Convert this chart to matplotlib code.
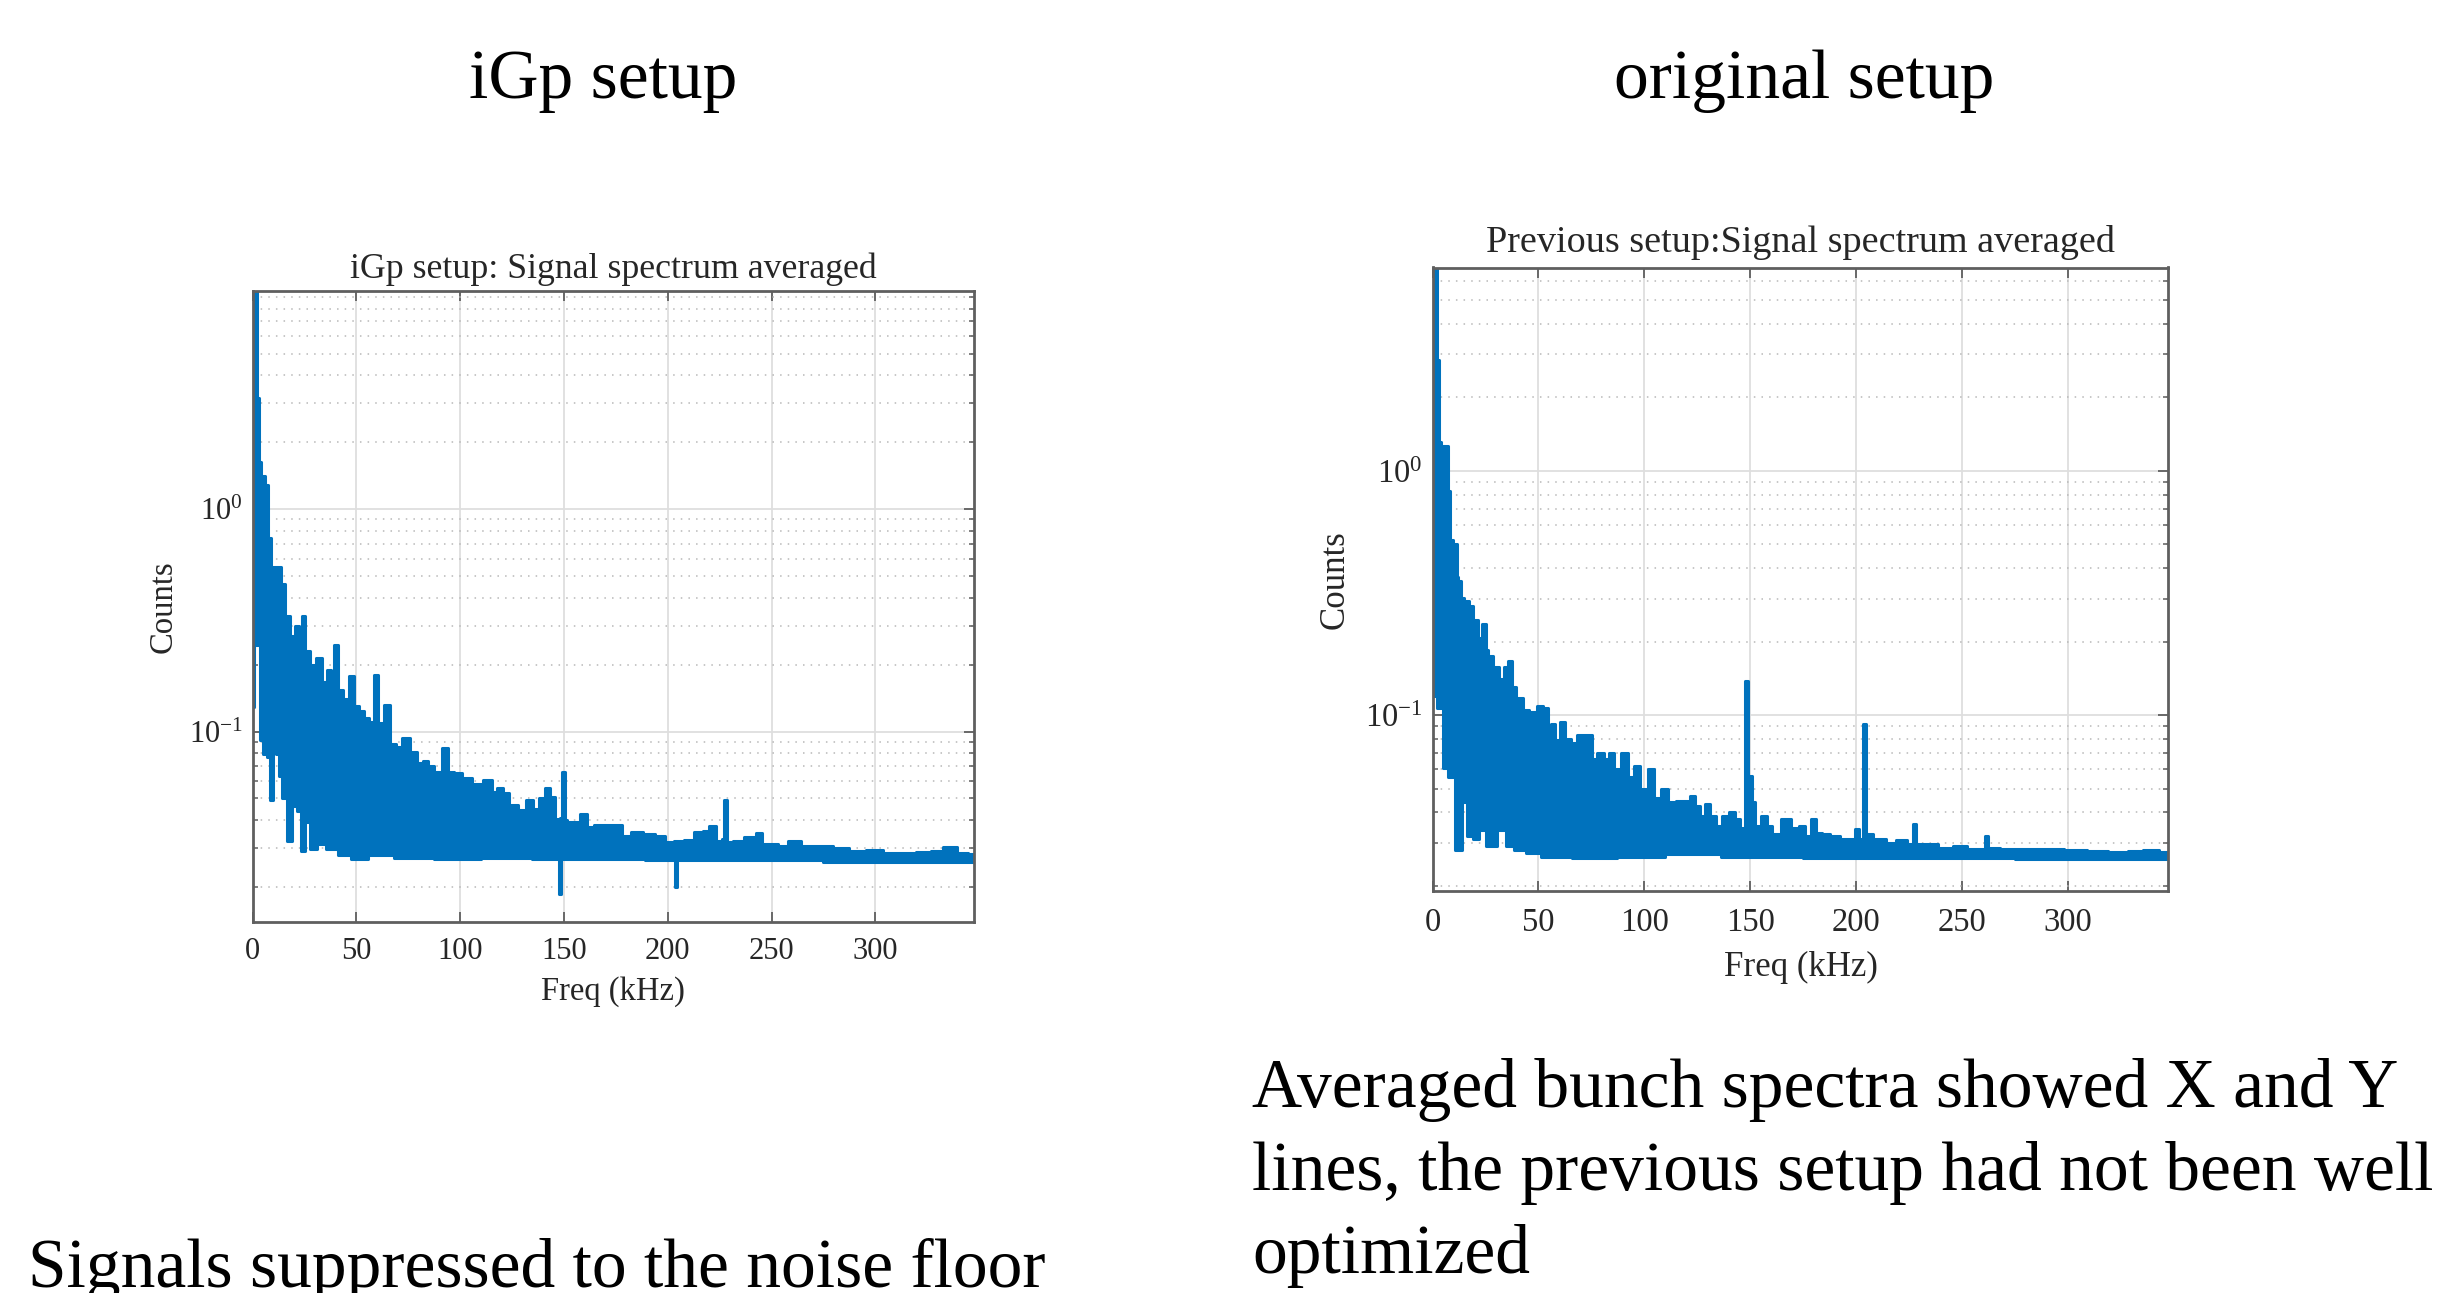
import numpy as np
import matplotlib
matplotlib.use("Agg")
import matplotlib.pyplot as plt
from matplotlib import cbook

plt.rcParams['font.family'] = ['Liberation Serif', 'DejaVu Serif']
plt.rcParams['mathtext.fontset'] = 'custom'
plt.rcParams['mathtext.rm'] = 'Liberation Serif'

# ---- iGp setup spectrum (upper and lower edge of the trace) ----
igp_up_f = [0, 0.6, 2.2, 2.6, 3.2, 3.5, 5.0, 7.1, 7.7, 9.8, 13.0, 14.6, 16.7, 19.0, 21.8, 23.0,
            24.7, 26.3, 29.0, 32.2, 34.6, 37.0, 38.5, 40.2, 42.6, 45.0, 48.2, 50.0, 52.2, 55.0,
            57.5, 59.1, 61.9, 64.7, 67.5, 70.5, 73.9, 77.9, 80.5, 83.5, 85.9, 89.0, 93.1, 95.5,
            98.7, 103.0, 108.3, 114.0, 116.4, 119.6, 122.1, 125.3, 130.1, 133.3, 136.5, 139.7,
            142.1, 144.5, 146.9, 149.2, 149.4, 150.2, 150.4, 152.6, 155.8, 159.8, 162.2, 167.0,
            171.8, 175.9, 179.9, 184.7, 191.1, 196.7, 200.8, 205.6, 210.4, 215.2, 218.4, 221.3,
            224.8, 227.2, 227.4, 228.2, 228.4, 229.7, 232.9, 240.9, 243.8, 247.3, 250.5, 255.3,
            260.2, 268.2, 274.6, 284.3, 290.7, 300.3, 306.7, 314.8, 324.4, 329.2, 336.4, 342.1,
            347.5]
igp_up_v = [2.06, 12, 12, 3.16, 2.06, 1.63, 1.41, 1.29, 0.74, 0.55, 0.55, 0.46, 0.33, 0.27, 0.30,
            0.26, 0.33, 0.23, 0.20, 0.215, 0.167, 0.19, 0.15, 0.245, 0.153, 0.14, 0.178, 0.13,
            0.124, 0.115, 0.11, 0.18, 0.109, 0.132, 0.088, 0.085, 0.094, 0.081, 0.072, 0.074,
            0.070, 0.066, 0.084, 0.066, 0.065, 0.062, 0.058, 0.0607, 0.0536, 0.0555, 0.0527,
            0.0467, 0.0443, 0.0492, 0.045, 0.050, 0.0555, 0.0509, 0.0406, 0.041, 0.0655, 0.0655,
            0.040, 0.0392, 0.0392, 0.0427, 0.0372, 0.0378, 0.0378, 0.038, 0.034, 0.0355, 0.0346,
            0.034, 0.0317, 0.0323, 0.0326, 0.0353, 0.0358, 0.0374, 0.0323, 0.033, 0.0491, 0.0491,
            0.032, 0.0317, 0.0323, 0.0335, 0.035, 0.0312, 0.0312, 0.0306, 0.0323, 0.0306, 0.0305,
            0.0299, 0.029, 0.0292, 0.0284, 0.0285, 0.0288, 0.029, 0.0301, 0.0285, 0.0281]
igp_lo_f = [0, 0.3, 1.0, 3.4, 4.2, 5.8, 8.2, 9.0, 10.3, 12.2, 13.0, 15.1, 17.8, 20.2, 22.6, 24.2,
            26.6, 29.0, 33.0, 37.8, 44.2, 50.6, 60.3, 76.3, 98.7, 121.2, 147.6, 148.0, 148.6,
            149.0, 175.0, 203.4, 203.8, 204.4, 204.8, 250.0, 300.0, 347.5]
igp_lo_v = [0.129, 0.129, 0.245, 0.245, 0.092, 0.079, 0.077, 0.049, 0.081, 0.079, 0.063, 0.050,
            0.0323, 0.046, 0.044, 0.029, 0.039, 0.0297, 0.0311, 0.0297, 0.0278, 0.0267, 0.0278,
            0.027, 0.0267, 0.027, 0.0267, 0.0185, 0.0185, 0.0267, 0.0266, 0.0265, 0.020, 0.020,
            0.0265, 0.0263, 0.026, 0.026]

# ---- previous setup spectrum ----
prev_up_f = [0, 0.3, 1.6, 2.2, 3.4, 5.0, 6.9, 7.8, 8.5, 11.0, 11.6, 12.8, 13.6, 16.0, 18.3, 20.3,
             22.2, 24.7, 25.7, 26.9, 30.0, 32.4, 34.7, 36.6, 38.2, 41.0, 44.1, 47.3, 51.2, 53.5,
             55.1, 56.7, 59.0, 61.3, 63.7, 66.8, 70.0, 73.9, 76.2, 79.3, 82.5, 84.0, 87.2, 90.8,
             93.4, 96.6, 99.7, 103.3, 106.0, 109.9, 112.2, 117.3, 120.4, 122.8, 125.2, 127.5,
             129.9, 132.2, 135.3, 138.3, 141.4, 143.8, 146.1, 147.5, 147.7, 148.9, 149.1, 150.8,
             151.0, 153.1, 157.0, 158.6, 161.7, 167.2, 171.0, 174.9, 177.3, 180.4, 182.0, 185.9,
             189.8, 195.2, 198.3, 200.7, 202.2, 203.3, 203.5, 204.7, 204.9, 210.8, 217.0, 220.9,
             227.0, 227.2, 228.4, 228.6, 235.7, 242.0, 249.8, 254.5, 260.8, 261.0, 262.3, 262.5,
             273.2, 281.0, 291.9, 304.3, 313.7, 324.6, 332.4, 338.7, 347.5]
prev_up_v = [1.47, 9, 9, 2.83, 1.31, 1.26, 1.26, 0.825, 0.52, 0.50, 0.368, 0.354, 0.303, 0.292,
             0.281, 0.245, 0.206, 0.236, 0.184, 0.174, 0.158, 0.14, 0.158, 0.167, 0.13, 0.118,
             0.105, 0.103, 0.109, 0.107, 0.079, 0.092, 0.079, 0.094, 0.080, 0.077, 0.083, 0.083,
             0.066, 0.070, 0.066, 0.070, 0.060, 0.070, 0.056, 0.062, 0.050, 0.060, 0.046, 0.050,
             0.044, 0.0446, 0.0446, 0.0467, 0.0425, 0.0387, 0.0432, 0.0387, 0.0352, 0.0387, 0.040,
             0.0375, 0.0346, 0.034, 0.138, 0.138, 0.0564, 0.0564, 0.0439, 0.0352, 0.0387, 0.0352,
             0.0325, 0.0375, 0.0346, 0.0352, 0.032, 0.0375, 0.033, 0.0325, 0.032, 0.031, 0.031,
             0.0341, 0.031, 0.031, 0.0919, 0.0919, 0.0325, 0.031, 0.030, 0.0308, 0.0297, 0.0358,
             0.0358, 0.0297, 0.0297, 0.0287, 0.029, 0.0282, 0.0282, 0.032, 0.032, 0.0287, 0.0282,
             0.0282, 0.0282, 0.0281, 0.0278, 0.0274, 0.0278, 0.0281, 0.0274]
prev_lo_f = [0, 0.4, 4.2, 5.8, 8.9, 12.5, 15.2, 17.2, 20.7, 23.0, 27.7, 33.2, 36.3, 41.0, 47.3,
             55.1, 77.0, 97.3, 122.4, 150.0, 200.0, 250.0, 300.0, 347.5]
prev_lo_v = [0.12, 0.12, 0.107, 0.061, 0.056, 0.028, 0.044, 0.032, 0.031, 0.034, 0.029, 0.034,
             0.029, 0.028, 0.0273, 0.0263, 0.026, 0.0263, 0.027, 0.0262, 0.026, 0.026, 0.0258,
             0.0257]

xticks = [0, 50, 100, 150, 200, 250, 300]
yticks = [0.1, 1]
ytick_labels = [r'$\mathregular{10^{-1}}$', r'$\mathregular{10^{0}}$']

BLUE = '#0072BD'
W, H = 2439, 1293
fig = plt.figure(figsize=(W / 100, H / 100), dpi=100)


def box(x0, y0, x1, y1):
    # pixel box (top-left origin) -> figure fraction
    return [x0 / W, 1 - y1 / H, (x1 - x0) / W, (y1 - y0) / H]


def spectrum(ax, up_f, up_v, lo_f, lo_v, ylim, title, fs, title_pad, xl_y, yl_x, tick_pad):
    # staircase edges like the densely sampled MATLAB trace
    ux, uy = cbook.pts_to_midstep(np.array(up_f), np.array(up_v))
    lx, ly = cbook.pts_to_midstep(np.array(lo_f), np.array(lo_v))
    ax.fill(np.concatenate([ux, lx[::-1]]), np.concatenate([uy, ly[::-1]]), color=BLUE, lw=0)
    ax.plot(up_f, up_v, color=BLUE, lw=2.2, drawstyle='steps-mid')
    ax.plot(lo_f, lo_v, color=BLUE, lw=2.2, drawstyle='steps-mid')
    ax.set_yscale('log')
    ax.set_xlim(0, 347.5)
    ax.set_ylim(*ylim)
    ax.set_xticks(xticks)
    ax.set_yticks(yticks, ytick_labels)
    ax.grid(True, which='major', color='#dedede', lw=1.3)
    ax.yaxis.grid(True, which='minor', color='#b8b8b8', lw=1.1, ls=(0, (1, 4)))
    ax.set_axisbelow(True)
    for s in ax.spines.values():
        s.set_color('#5f5f5f')
        s.set_linewidth(2)
    ax.tick_params(which='both', direction='in', top=True, right=True, colors='#5f5f5f',
                   labelcolor='#262626', labelsize=fs)
    ax.tick_params(which='major', length=7, width=1.3)
    ax.tick_params(which='minor', length=3.5, width=1.1)
    ax.tick_params(axis='x', pad=tick_pad)
    ax.tick_params(axis='y', pad=7)
    ax.set_title(title, fontsize=fs * 1.17, color='#262626', pad=title_pad)
    ax.set_xlabel('Freq (kHz)', fontsize=fs * 1.07, color='#262626')
    ax.set_ylabel('Counts', fontsize=fs * 1.07, color='#262626')
    ax.xaxis.set_label_coords(0.5, xl_y)
    ax.xaxis.label.set_va('baseline')
    ax.yaxis.set_label_coords(yl_x, 0.5)
    ax.yaxis.label.set_va('center')


ax1 = fig.add_axes(box(252.5, 291, 974, 922))
spectrum(ax1, igp_up_f, igp_up_v, igp_lo_f, igp_lo_v, (0.0139, 9.6),
         'iGp setup: Signal spectrum averaged', 22, 9, -0.124, -0.124, 11)

ax2 = fig.add_axes(box(1432.6, 267.5, 2168.4, 891.3))
spectrum(ax2, prev_up_f, prev_up_v, prev_lo_f, prev_lo_v, (0.019, 6.8),
         'Previous setup:Signal spectrum averaged', 23.5, 11, -0.136, -0.133, 12)

fig.text(603 / W, 1 - 98 / H, 'iGp setup', ha='center', va='baseline', fontsize=50)
fig.text(1804 / W, 1 - 98 / H, 'original setup', ha='center', va='baseline', fontsize=50)
fig.text(28 / W, 1 - 1287 / H, 'Signals suppressed to the noise floor',
         ha='left', va='baseline', fontsize=50)
for i, line in enumerate(['Averaged bunch spectra showed X and Y',
                          'lines, the previous setup had not been well',
                          'optimized']):
    fig.text(1252 / W, 1 - (1107 + 83 * i) / H, line, ha='left', va='baseline', fontsize=50)

fig.savefig('out.png', dpi=100)
